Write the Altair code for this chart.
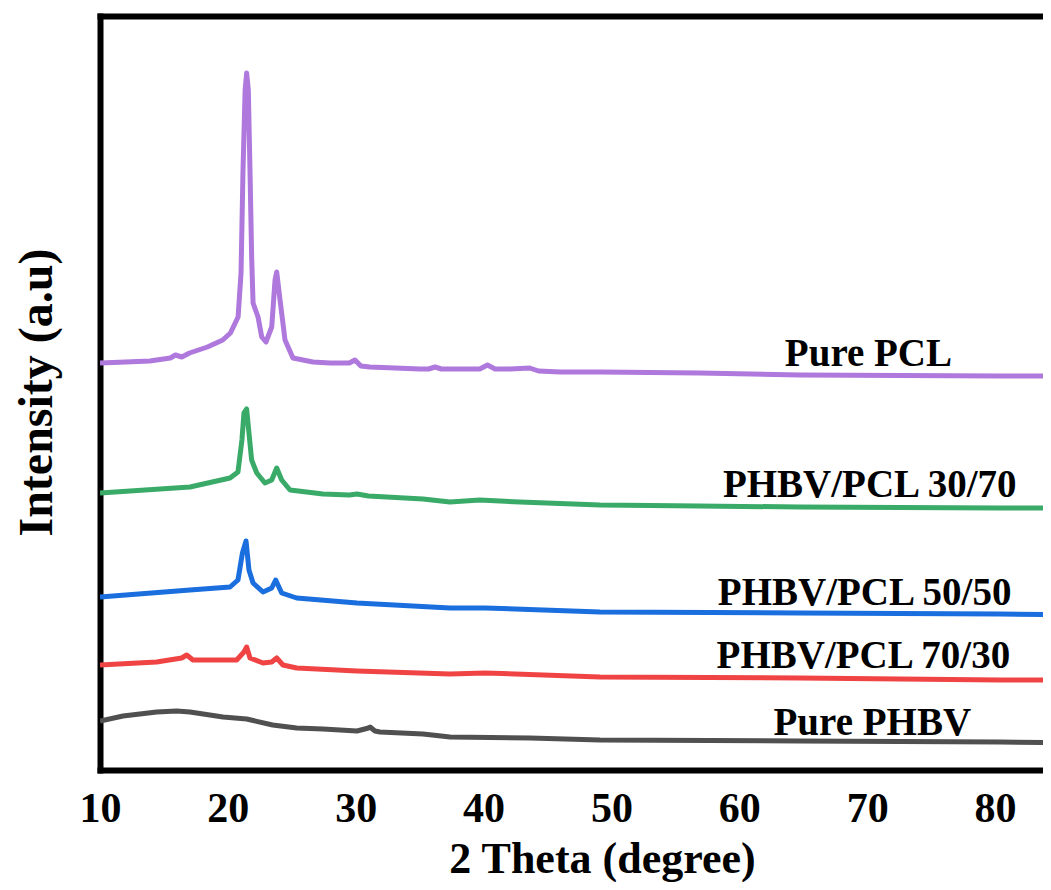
import altair as alt
import pandas as pd

# ---- data (2-theta in degrees, intensity in arbitrary units) ----
pcl_x = [10, 12, 13.9, 15.5, 15.9, 16.4, 17.0, 18.4, 19.6, 20.2, 20.8, 21.03, 21.18, 21.35, 21.47,
         21.6, 21.73, 21.86, 21.97, 22.36, 22.65, 22.98, 23.43, 23.69, 23.82, 24.08, 24.47, 25.09,
         26.66, 27.99, 29.5, 29.94, 30.4, 31.1, 35.03, 35.7, 36.2, 36.7, 38.16, 39.7, 40.3, 40.9,
         42.07, 43.6, 44.3, 46.0, 49.1, 56.9, 64.74, 80.39, 84.4]
pcl_y = [407, 408, 409, 412, 415, 413, 417, 423, 430, 437, 453, 497, 597, 680, 697,
         680, 600, 513, 467, 453, 433, 428, 443, 490, 498, 470, 430, 412,
         408, 407, 407, 410, 404, 403, 401, 401, 403, 401, 401, 401, 405, 401,
         401, 402, 399, 398, 398, 397, 395, 394, 394]

b3070_x = [10, 17.04, 20.17, 20.79, 21.1, 21.26, 21.47, 21.65, 21.86, 22.26, 22.9, 23.43, 23.82,
           24.21, 24.86, 27.44, 29.5, 30.1, 31.0, 35.26, 37.37, 39.7, 42.85, 49.1, 56.9, 64.74,
           80.39, 84.4]
b3070_y = [277, 283, 292, 298, 330, 357, 361, 337, 310, 297, 287, 290, 302,
           290, 280, 276, 275, 276, 274, 271, 268, 270, 268, 265, 264, 263,
           262, 262]

b5050_x = [10, 17.04, 20.17, 20.79, 21.14, 21.42, 21.65, 21.97, 22.75, 23.43, 23.74, 24.21, 25.38,
           30.1, 37.37, 40.11, 49.1, 64.74, 80.39, 84.4]
b5050_y = [173, 180, 183, 190, 217, 229, 200, 187, 178, 182, 190, 177, 172,
           167, 162, 162, 158, 157, 156, 155.5]

b7030_x = [10, 14.43, 16.39, 16.78, 17.27, 20.69, 21.26, 21.47, 21.73, 22.75, 23.43, 23.82, 24.31,
           25.38, 30.1, 37.37, 40.11, 49.1, 64.74, 80.39, 84.4]
b7030_y = [105, 108, 112, 115, 110, 110, 118, 123, 112, 107, 108, 112, 105,
           102, 99, 96, 97, 93, 92, 90, 90]

phbv_x = [10, 11.8, 14.43, 16.0, 17.04, 19.62, 21.47, 23.5, 25.38, 27.44, 30.1, 31.0, 31.12, 31.5,
          31.9, 35.26, 37.37, 43.63, 49.1, 64.74, 80.39, 84.4]
phbv_y = [49, 54, 58, 59, 58, 53, 51, 45, 42, 41, 39, 42, 43, 39,
          38, 36, 33, 32, 30, 29, 28, 27.5]

series = ["Pure PCL", "PHBV/PCL 30/70", "PHBV/PCL 50/50", "PHBV/PCL 70/30", "Pure PHBV"]
colors = ["#AF78DC", "#3AAA69", "#1A6EDE", "#F04444", "#505050"]
label_x = [70.1, 70.2, 69.8, 69.7, 70.4]
label_y = [404, 273, 165, 102, 35]
x_ticks = [10, 20, 30, 40, 50, 60, 70, 80]

# ---- build tables ----
rows = []
for name, xs, ys in zip(series,
                        [pcl_x, b3070_x, b5050_x, b7030_x, phbv_x],
                        [pcl_y, b3070_y, b5050_y, b7030_y, phbv_y]):
    for a, b in zip(xs, ys):
        rows.append({"series": name, "theta": a, "intensity": b})
df = pd.DataFrame(rows)
lab = pd.DataFrame({"name": series, "lx": label_x, "ly": label_y})

FONT = "Liberation Serif"
xscale = alt.Scale(domain=[10, 83.75], nice=False, zero=False)
yscale = alt.Scale(domain=[0, 754], nice=False, zero=False)

yaxis = alt.Axis(orient="left", labels=False, title="Intensity (a.u)",
                 titleX=-49, titleY=376, titleBaseline="alphabetic", titleAngle=270)

lines = alt.Chart(df).mark_line(strokeWidth=5, clip=True, strokeJoin="round").encode(
    x=alt.X("theta:Q", scale=xscale,
            axis=alt.Axis(orient="bottom", values=x_ticks, title="2 Theta (degree)",
                          labelPadding=18, labelFontSize=42, labelFlush=False,
                          titleX=502, titleY=102, titleFontSize=44,
                          titleBaseline="alphabetic")),
    y=alt.Y("intensity:Q", scale=yscale, axis=yaxis, title="Intensity (a.u)"),
    color=alt.Color("series:N", scale=alt.Scale(domain=series, range=colors), legend=None),
    order=alt.Order("theta:Q"),
)

labels = alt.Chart(lab).mark_text(font=FONT, fontWeight="bold", fontSize=39, align="center",
                                  baseline="alphabetic", color="black").encode(
    x=alt.X("lx:Q", scale=xscale,
            axis=alt.Axis(orient="top", labels=False, title=None)),
    y=alt.Y("ly:Q", scale=yscale, axis=yaxis, title="Intensity (a.u)"),
    text="name:N",
)

chart = alt.layer(lines, labels).resolve_axis(x="independent").properties(
    width=943, height=754,
    autosize="none",
    padding={"left": 92, "top": 8, "right": 0, "bottom": 112},
).configure_view(stroke=None).configure_axis(
    grid=False, ticks=False, tickSize=0,
    domainColor="black", domainWidth=6, domainCap="square",
    labelFont=FONT, labelFontWeight="bold", labelFontSize=46, labelColor="black",
    titleFont=FONT, titleFontWeight="bold", titleFontSize=48, titleColor="black",
)

chart.save("out.html", embed_options={"renderer": "svg", "actions": False})
